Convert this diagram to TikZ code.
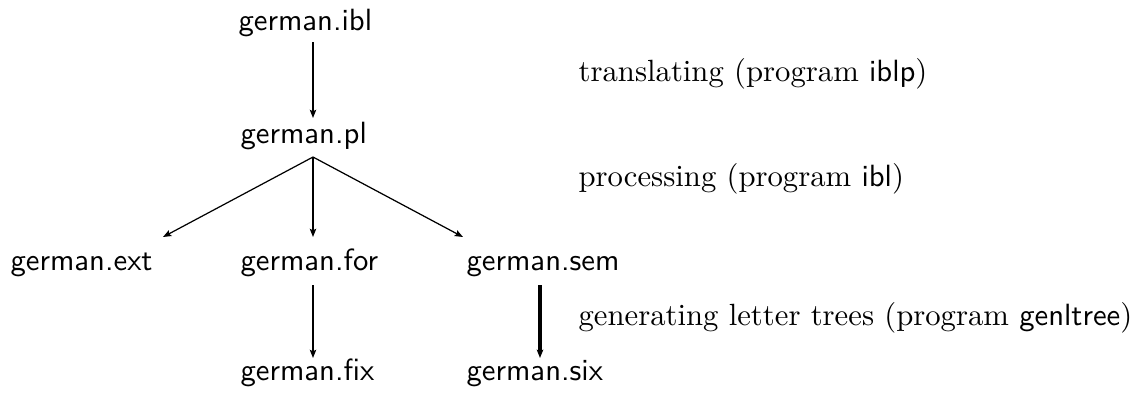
\documentclass[tikz,border=0pt]{standalone}
\usetikzlibrary{arrows.meta}
\begin{document}
\begin{tikzpicture}[x=0.3257pt, y=-0.3257pt,
  file/.style={anchor=base west, inner sep=0pt, font=\sffamily},
  note/.style={anchor=base west, inner sep=0pt},
  arr/.style={line width=0.4pt, -{Stealth[length=2.7pt,width=2.1pt,inset=0.5pt]}},
  thickarr/.style={arr, line width=1.1pt}]
\useasboundingbox (0,0) rectangle (1147,392);

% files
\node[file] (ibl) at (238,30)  {german.ibl};
\node[file] (pl)  at (240,143) {german.pl};
\node[file] (ext) at (10,270)  {german.ext};
\node[file] (for) at (240,270) {german.for};
\node[file] (sem) at (466,270) {german.sem};
\node[file] (fix) at (240,380) {german.fix};
\node[file] (six) at (466,380) {german.six};

% processing steps
\node[note] (s1) at (578,81)  {translating (program \textsf{iblp})};
\node[note] (s2) at (578,186) {processing (program \textsf{ibl})};
\node[note] (s3) at (578,325) {generating letter trees (program \textsf{genltree})};

% connectors
\draw[arr] ([shift={(75,12)}]ibl.base west) -- ([shift={(73,-25)}]pl.base west);
\draw[arr] ([shift={(73,14)}]pl.base west) -- ([shift={(153,-33)}]ext.base west);
\draw[arr] ([shift={(73,14)}]pl.base west) -- ([shift={(73,-33)}]for.base west);
\draw[arr] ([shift={(73,14)}]pl.base west) -- ([shift={(-3,-33)}]sem.base west);
\draw[arr] ([shift={(73,15)}]for.base west) -- ([shift={(73,-22)}]fix.base west);
\draw[thickarr] ([shift={(74,15)}]sem.base west) -- ([shift={(74,-22)}]six.base west);
\end{tikzpicture}
\end{document}
